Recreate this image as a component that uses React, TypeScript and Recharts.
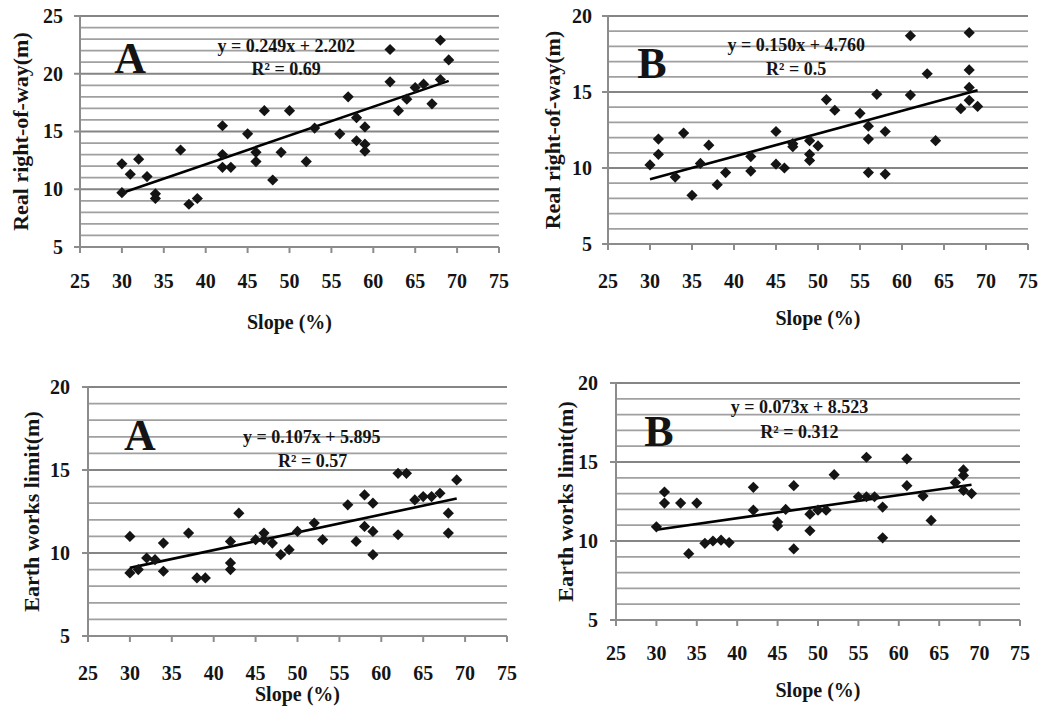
import { ScatterChart, Scatter, XAxis, YAxis, ReferenceLine, ReferenceDot } from "recharts";

const slopeTicks = [25, 30, 35, 40, 45, 50, 55, 60, 65, 70, 75];

// Real right-of-way (m) vs slope, case A
const rowSlopeA = [30, 30, 31, 32, 33, 34, 34, 37, 38, 39, 42, 42, 42, 43, 45, 46, 46, 47, 48, 49, 50, 52, 53, 56, 57, 58, 58, 59, 59, 59, 62, 62, 63, 64, 65, 66, 67, 68, 68, 69];
const rowWidthA = [12.2, 9.7, 11.3, 12.6, 11.1, 9.6, 9.2, 13.4, 8.7, 9.2, 15.5, 13.0, 11.9, 11.9, 14.8, 13.2, 12.4, 16.8, 10.8, 13.2, 16.8, 12.4, 15.3, 14.8, 18.0, 16.2, 14.2, 15.4, 13.9, 13.3, 22.1, 19.3, 16.8, 17.8, 18.8, 19.1, 17.4, 22.9, 19.5, 21.2];

// Real right-of-way (m) vs slope, case B
const rowSlopeB = [30, 31, 31, 33, 34, 35, 36, 37, 38, 39, 42, 42, 45, 45, 46, 47, 47, 49, 49, 49, 50, 51, 52, 55, 56, 56, 56, 57, 58, 58, 61, 61, 63, 64, 67, 68, 68, 68, 68, 69];
const rowWidthB = [10.2, 11.9, 10.9, 9.4, 12.3, 8.2, 10.3, 11.5, 8.9, 9.7, 10.75, 9.8, 12.4, 10.25, 10.0, 11.6, 11.4, 11.8, 10.9, 10.5, 11.45, 14.5, 13.8, 13.6, 12.75, 11.9, 9.7, 14.85, 12.4, 9.6, 18.7, 14.8, 16.2, 11.8, 13.9, 18.9, 16.45, 15.3, 14.45, 14.05];

// Earth works limit (m) vs slope, case A
const earthSlopeA = [30, 30, 31, 32, 33, 34, 34, 37, 38, 39, 42, 42, 42, 43, 45, 46, 46, 47, 48, 49, 50, 52, 53, 56, 57, 58, 58, 59, 59, 59, 62, 62, 63, 64, 65, 66, 67, 68, 68, 69];
const earthLimitA = [11.0, 8.8, 9.0, 9.7, 9.6, 10.6, 8.9, 11.2, 8.5, 8.5, 10.7, 9.4, 9.0, 12.4, 10.8, 11.2, 10.8, 10.6, 9.9, 10.2, 11.3, 11.8, 10.8, 12.9, 10.7, 13.5, 11.6, 13.0, 11.3, 9.9, 14.8, 11.1, 14.8, 13.2, 13.4, 13.4, 13.6, 12.4, 11.2, 14.4];

// Earth works limit (m) vs slope, case B
const earthSlopeB = [30, 31, 31, 33, 34, 35, 36, 37, 38, 39, 42, 42, 45, 45, 46, 47, 47, 49, 49, 50, 51, 52, 55, 56, 56, 57, 58, 58, 61, 61, 63, 64, 67, 68, 68, 68, 69];
const earthLimitB = [10.9, 13.1, 12.4, 12.4, 9.2, 12.4, 9.85, 10.0, 10.05, 9.9, 13.4, 11.95, 11.2, 10.95, 12.0, 13.5, 9.5, 11.7, 10.65, 11.95, 11.95, 14.2, 12.8, 15.3, 12.8, 12.8, 12.15, 10.2, 15.2, 13.5, 12.85, 11.3, 13.7, 14.5, 14.15, 13.2, 13.0];

const serif = '"Liberation Serif", "Times New Roman", serif';
const ink = "#141414";
const gridGray = "#a0a0a0";
const axisGray = "#8c8c8c";

const panels = [
  {
    xs: rowSlopeA, ys: rowWidthA, yMax: 25, yTitle: "Real right-of-way(m)", letter: "A",
    slope: 0.249, intercept: 2.202, eq: "y = 0.249x + 2.202", r2: "R² = 0.69",
    box: { left: 0, top: 0, width: 520, height: 345, mTop: 16, mRight: 21, yW: 80, xH: 98, xTm: 21, yTm: 11, xTitleDy: 75, yTitleX: 20 },
    at: { letter: [30.97, 20.06], eq: [49.6, 21.9], r2: [49.6, 19.9] },
  },
  {
    xs: rowSlopeB, ys: rowWidthB, yMax: 20, yTitle: "Real right-of-way(m)", letter: "B",
    slope: 0.15, intercept: 4.76, eq: "y = 0.150x + 4.760", r2: "R² = 0.5",
    box: { left: 520, top: 0, width: 530, height: 345, mTop: 16, mRight: 22, yW: 88, xH: 101, xTm: 24, yTm: 10, xTitleDy: 74, yTitleX: 32 },
    at: { letter: [30.24, 15.92], eq: [47.4, 17.7], r2: [47.4, 16.12] },
  },
  {
    xs: earthSlopeA, ys: earthLimitA, yMax: 20, yTitle: "Earth works limit(m)", letter: "A",
    slope: 0.107, intercept: 5.895, eq: "y = 0.107x + 5.895", r2: "R² = 0.57",
    box: { left: 0, top: 355, width: 520, height: 351, mTop: 32, mRight: 13, yW: 88, xH: 70, xTm: 24, yTm: 12, xTitleDy: 58, yTitleX: 31 },
    at: { letter: [31.2, 16.2], eq: [51.7, 16.63], r2: [51.8, 15.18] },
  },
  {
    xs: earthSlopeB, ys: earthLimitB, yMax: 20, yTitle: "Earth works limit(m)", letter: "B",
    slope: 0.073, intercept: 8.523, eq: "y = 0.073x + 8.523", r2: "R² = 0.312",
    box: { left: 520, top: 355, width: 530, height: 351, mTop: 28, mRight: 30, yW: 96, xH: 86, xTm: 20, yTm: 12, xTitleDy: 70, yTitleX: 45 },
    at: { letter: [30.3, 16.01], eq: [47.7, 18.1], r2: [47.7, 16.52] },
  },
];

function Diamond(props: any) {
  const { cx, cy } = props;
  if (cx == null || cy == null) return null;
  const r = 5.6;
  return <polygon points={`${cx},${cy - r} ${cx + r},${cy} ${cx},${cy + r} ${cx - r},${cy}`} fill={ink} />;
}

function XTick(props: any) {
  const { x, y, payload } = props;
  return (
    <text x={x} y={y} dy="0.72em" textAnchor="middle" fontFamily={serif} fontWeight="bold" fontSize={20} fill={ink}>
      {payload.value}
    </text>
  );
}

function YTick(props: any) {
  const { x, y, payload } = props;
  return (
    <text x={x} y={y} dy="0.34em" textAnchor="end" fontFamily={serif} fontWeight="bold" fontSize={20} fill={ink}>
      {payload.value}
    </text>
  );
}

// text drawn with its baseline on the anchor point
function textAt(text: string, size: number) {
  return ({ viewBox }: any) => {
    const x = viewBox.x + (viewBox.width || 0) / 2;
    const y = viewBox.y + (viewBox.height || 0) / 2;
    return (
      <text x={x} y={y} textAnchor="middle" fontFamily={serif} fontWeight="bold" fontSize={size} fill={ink}>
        {text}
      </text>
    );
  };
}

function Panel({ p }: { p: (typeof panels)[number] }) {
  const b = p.box;
  const data = p.xs.map((x, i) => ({ x, y: p.ys[i] }));
  const x0 = Math.min(...p.xs);
  const x1 = Math.max(...p.xs);
  const yTicks = [5, 10, 15, 20, 25].filter((v) => v <= p.yMax);
  const gridYs: number[] = [];
  for (let v = 6; v <= p.yMax; v++) gridYs.push(v);

  const xTitle = ({ viewBox }: any) => (
    <text
      x={viewBox.x + viewBox.width / 2}
      y={viewBox.y + b.xTitleDy}
      textAnchor="middle"
      dominantBaseline="central"
      fontFamily={serif}
      fontWeight="bold"
      fontSize={20}
      fill={ink}
    >
      Slope (%)
    </text>
  );

  const yTitle = ({ viewBox }: any) => {
    const cx = viewBox.x + b.yTitleX;
    const cy = viewBox.y + viewBox.height / 2;
    return (
      <text
        x={cx}
        y={cy}
        transform={`rotate(-90 ${cx} ${cy})`}
        textAnchor="middle"
        dominantBaseline="central"
        fontFamily={serif}
        fontWeight="bold"
        fontSize={22}
        fill={ink}
      >
        {p.yTitle}
      </text>
    );
  };

  return (
    <div style={{ position: "absolute", left: b.left, top: b.top }}>
      <ScatterChart width={b.width} height={b.height} margin={{ top: b.mTop, right: b.mRight, bottom: 0, left: 0 }}>
        <XAxis
          type="number"
          dataKey="x"
          domain={[25, 75]}
          ticks={slopeTicks}
          height={b.xH}
          tickSize={6}
          tickMargin={b.xTm}
          tick={<XTick />}
          axisLine={{ stroke: axisGray, strokeWidth: 2 }}
          tickLine={{ stroke: axisGray, strokeWidth: 2 }}
          label={{ content: xTitle }}
        />
        <YAxis
          type="number"
          dataKey="y"
          domain={[5, p.yMax]}
          ticks={yTicks}
          width={b.yW}
          tickSize={6}
          tickMargin={b.yTm}
          tick={<YTick />}
          axisLine={{ stroke: axisGray, strokeWidth: 2 }}
          tickLine={{ stroke: axisGray, strokeWidth: 2 }}
          label={{ content: yTitle }}
        />
        {gridYs.map((v) => (
          <ReferenceLine key={v} y={v} stroke={v % 5 === 0 ? "#858585" : gridGray} strokeWidth={v % 5 === 0 ? 2.2 : 1.8} />
        ))}
        <ReferenceLine
          segment={[
            { x: x0, y: p.slope * x0 + p.intercept },
            { x: x1, y: p.slope * x1 + p.intercept },
          ]}
          stroke="#000"
          strokeWidth={2.6}
        />
        <Scatter data={data} shape={Diamond} isAnimationActive={false} />
        <ReferenceDot x={p.at.letter[0]} y={p.at.letter[1]} r={0} fill="none" stroke="none" label={{ content: textAt(p.letter, 44) }} />
        <ReferenceDot x={p.at.eq[0]} y={p.at.eq[1]} r={0} fill="none" stroke="none" label={{ content: textAt(p.eq, 18) }} />
        <ReferenceDot x={p.at.r2[0]} y={p.at.r2[1]} r={0} fill="none" stroke="none" label={{ content: textAt(p.r2, 18) }} />
      </ScatterChart>
    </div>
  );
}

export default function App() {
  return (
    <div style={{ position: "absolute", left: 0, top: 0, width: 1050, height: 706, background: "#fff", overflow: "hidden" }}>
      {panels.map((p, i) => (
        <Panel key={i} p={p} />
      ))}
    </div>
  );
}
